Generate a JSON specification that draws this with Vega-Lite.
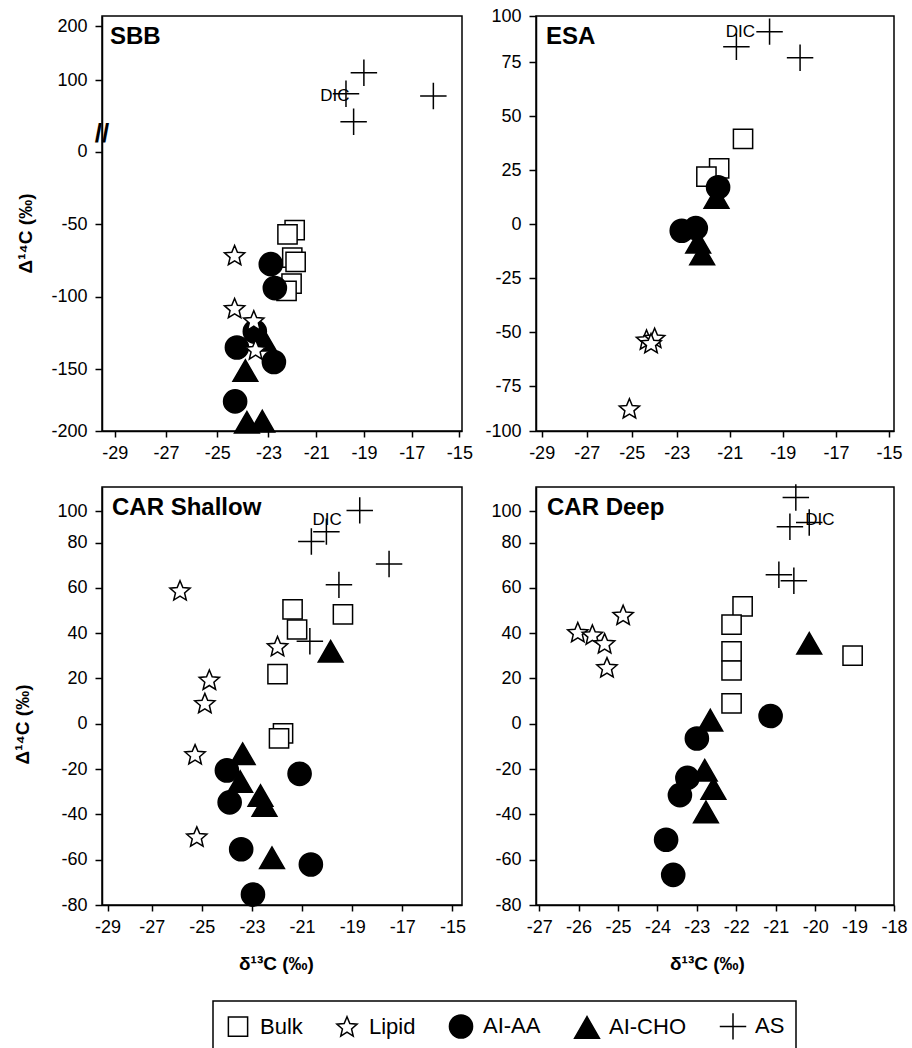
{
  "$schema": "https://vega.github.io/schema/vega-lite/v6.json",
  "padding": {"left": 12, "top": 6, "right": 0, "bottom": 0},
  "autosize": {"type": "pad"},
  "datasets": {
    "pts": [
      {"panel": "SBB", "type": "Bulk", "d13C": -21.9, "D14C": -54},
      {"panel": "SBB", "type": "Bulk", "d13C": -22.2, "D14C": -57},
      {"panel": "SBB", "type": "Bulk", "d13C": -22.0, "D14C": -73},
      {"panel": "SBB", "type": "Bulk", "d13C": -21.86, "D14C": -76},
      {"panel": "SBB", "type": "Bulk", "d13C": -22.03, "D14C": -91},
      {"panel": "SBB", "type": "Bulk", "d13C": -22.24, "D14C": -96},
      {"panel": "SBB", "type": "AI-CHO", "d13C": -23.17, "D14C": -130},
      {"panel": "SBB", "type": "AI-CHO", "d13C": -23.9, "D14C": -151},
      {"panel": "SBB", "type": "AI-CHO", "d13C": -23.84, "D14C": -193},
      {"panel": "SBB", "type": "AI-CHO", "d13C": -23.24, "D14C": -192},
      {"panel": "SBB", "type": "AI-AA", "d13C": -22.9, "D14C": -77.5},
      {"panel": "SBB", "type": "AI-AA", "d13C": -22.73, "D14C": -94},
      {"panel": "SBB", "type": "AI-AA", "d13C": -23.53, "D14C": -124},
      {"panel": "SBB", "type": "AI-AA", "d13C": -24.23, "D14C": -135},
      {"panel": "SBB", "type": "AI-AA", "d13C": -22.77, "D14C": -145},
      {"panel": "SBB", "type": "AI-AA", "d13C": -24.3, "D14C": -176},
      {"panel": "SBB", "type": "Lipid", "d13C": -24.32, "D14C": -72},
      {"panel": "SBB", "type": "Lipid", "d13C": -24.32, "D14C": -108.5},
      {"panel": "SBB", "type": "Lipid", "d13C": -23.57, "D14C": -117},
      {"panel": "SBB", "type": "Lipid", "d13C": -23.5, "D14C": -137},
      {"panel": "SBB", "type": "AS", "d13C": -19.0, "D14C": 113.5},
      {"panel": "SBB", "type": "AS", "d13C": -19.75, "D14C": 74.6},
      {"panel": "SBB", "type": "AS", "d13C": -16.09, "D14C": 70.4},
      {"panel": "SBB", "type": "AS", "d13C": -19.43, "D14C": 22.8},

      {"panel": "ESA", "type": "Bulk", "d13C": -20.5, "D14C": 39.4},
      {"panel": "ESA", "type": "Bulk", "d13C": -21.4, "D14C": 25.7},
      {"panel": "ESA", "type": "Bulk", "d13C": -21.88, "D14C": 21.9},
      {"panel": "ESA", "type": "AI-CHO", "d13C": -21.5, "D14C": 12.3},
      {"panel": "ESA", "type": "AI-CHO", "d13C": -22.19, "D14C": -8.5},
      {"panel": "ESA", "type": "AI-CHO", "d13C": -22.04, "D14C": -13.9},
      {"panel": "ESA", "type": "AI-AA", "d13C": -21.44, "D14C": 17},
      {"panel": "ESA", "type": "AI-AA", "d13C": -22.81, "D14C": -3.1},
      {"panel": "ESA", "type": "AI-AA", "d13C": -22.28, "D14C": -1.9},
      {"panel": "ESA", "type": "Lipid", "d13C": -24.34, "D14C": -54},
      {"panel": "ESA", "type": "Lipid", "d13C": -23.98, "D14C": -53.2},
      {"panel": "ESA", "type": "Lipid", "d13C": -24.14, "D14C": -55.6},
      {"panel": "ESA", "type": "Lipid", "d13C": -25.1, "D14C": -88},
      {"panel": "ESA", "type": "AS", "d13C": -19.5, "D14C": 91.5},
      {"panel": "ESA", "type": "AS", "d13C": -20.75, "D14C": 83.3},
      {"panel": "ESA", "type": "AS", "d13C": -18.35, "D14C": 77.3},

      {"panel": "CAR Shallow", "type": "Bulk", "d13C": -21.38, "D14C": 50.5},
      {"panel": "CAR Shallow", "type": "Bulk", "d13C": -21.2, "D14C": 41.6},
      {"panel": "CAR Shallow", "type": "Bulk", "d13C": -19.37, "D14C": 48.3},
      {"panel": "CAR Shallow", "type": "Bulk", "d13C": -21.98, "D14C": 21.9},
      {"panel": "CAR Shallow", "type": "Bulk", "d13C": -21.76, "D14C": -4.3},
      {"panel": "CAR Shallow", "type": "Bulk", "d13C": -21.92, "D14C": -6.5},
      {"panel": "CAR Shallow", "type": "AI-CHO", "d13C": -19.86, "D14C": 32},
      {"panel": "CAR Shallow", "type": "AI-CHO", "d13C": -23.37, "D14C": -13.2},
      {"panel": "CAR Shallow", "type": "AI-CHO", "d13C": -23.47, "D14C": -25.5},
      {"panel": "CAR Shallow", "type": "AI-CHO", "d13C": -22.66, "D14C": -31.7},
      {"panel": "CAR Shallow", "type": "AI-CHO", "d13C": -22.5, "D14C": -36.1},
      {"panel": "CAR Shallow", "type": "AI-CHO", "d13C": -22.2, "D14C": -59.1},
      {"panel": "CAR Shallow", "type": "AI-AA", "d13C": -24.0, "D14C": -20.6},
      {"panel": "CAR Shallow", "type": "AI-AA", "d13C": -21.1, "D14C": -22.1},
      {"panel": "CAR Shallow", "type": "AI-AA", "d13C": -23.89, "D14C": -34.7},
      {"panel": "CAR Shallow", "type": "AI-AA", "d13C": -23.43, "D14C": -55.4},
      {"panel": "CAR Shallow", "type": "AI-AA", "d13C": -20.65, "D14C": -62.1},
      {"panel": "CAR Shallow", "type": "AI-AA", "d13C": -22.96, "D14C": -75.4},
      {"panel": "CAR Shallow", "type": "Lipid", "d13C": -25.87, "D14C": 58.4},
      {"panel": "CAR Shallow", "type": "Lipid", "d13C": -21.98, "D14C": 33.8},
      {"panel": "CAR Shallow", "type": "Lipid", "d13C": -24.7, "D14C": 19},
      {"panel": "CAR Shallow", "type": "Lipid", "d13C": -24.88, "D14C": 8.7},
      {"panel": "CAR Shallow", "type": "Lipid", "d13C": -25.27, "D14C": -13.9},
      {"panel": "CAR Shallow", "type": "Lipid", "d13C": -25.2, "D14C": -50.2},
      {"panel": "CAR Shallow", "type": "AS", "d13C": -18.7, "D14C": 100.4},
      {"panel": "CAR Shallow", "type": "AS", "d13C": -20.03, "D14C": 86.9},
      {"panel": "CAR Shallow", "type": "AS", "d13C": -20.63, "D14C": 80.6},
      {"panel": "CAR Shallow", "type": "AS", "d13C": -17.53, "D14C": 70.5},
      {"panel": "CAR Shallow", "type": "AS", "d13C": -19.53, "D14C": 61.3},
      {"panel": "CAR Shallow", "type": "AS", "d13C": -20.69, "D14C": 36.4},

      {"panel": "CAR Deep", "type": "Bulk", "d13C": -21.84, "D14C": 51.8},
      {"panel": "CAR Deep", "type": "Bulk", "d13C": -22.12, "D14C": 43.7},
      {"panel": "CAR Deep", "type": "Bulk", "d13C": -22.12, "D14C": 31.9},
      {"panel": "CAR Deep", "type": "Bulk", "d13C": -22.12, "D14C": 23.5},
      {"panel": "CAR Deep", "type": "Bulk", "d13C": -22.12, "D14C": 9.0},
      {"panel": "CAR Deep", "type": "Bulk", "d13C": -19.05, "D14C": 30.1},
      {"panel": "CAR Deep", "type": "AI-CHO", "d13C": -20.15, "D14C": 35.5},
      {"panel": "CAR Deep", "type": "AI-CHO", "d13C": -22.66, "D14C": 1.6},
      {"panel": "CAR Deep", "type": "AI-CHO", "d13C": -22.8, "D14C": -20.5},
      {"panel": "CAR Deep", "type": "AI-CHO", "d13C": -22.58, "D14C": -28.6},
      {"panel": "CAR Deep", "type": "AI-CHO", "d13C": -22.77, "D14C": -38.9},
      {"panel": "CAR Deep", "type": "AI-AA", "d13C": -21.13, "D14C": 3.4},
      {"panel": "CAR Deep", "type": "AI-AA", "d13C": -23.0, "D14C": -6.5},
      {"panel": "CAR Deep", "type": "AI-AA", "d13C": -23.24, "D14C": -23.9},
      {"panel": "CAR Deep", "type": "AI-AA", "d13C": -23.43, "D14C": -31.5},
      {"panel": "CAR Deep", "type": "AI-AA", "d13C": -23.78, "D14C": -51.2},
      {"panel": "CAR Deep", "type": "AI-AA", "d13C": -23.6, "D14C": -66.7},
      {"panel": "CAR Deep", "type": "Lipid", "d13C": -26.02, "D14C": 40},
      {"panel": "CAR Deep", "type": "Lipid", "d13C": -25.65, "D14C": 38.9},
      {"panel": "CAR Deep", "type": "Lipid", "d13C": -25.34, "D14C": 35.1},
      {"panel": "CAR Deep", "type": "Lipid", "d13C": -25.28, "D14C": 24.5},
      {"panel": "CAR Deep", "type": "Lipid", "d13C": -24.87, "D14C": 47.6},
      {"panel": "CAR Deep", "type": "AS", "d13C": -20.49, "D14C": 108.7},
      {"panel": "CAR Deep", "type": "AS", "d13C": -20.64, "D14C": 90},
      {"panel": "CAR Deep", "type": "AS", "d13C": -20.15, "D14C": 92.7},
      {"panel": "CAR Deep", "type": "AS", "d13C": -20.92, "D14C": 65.8},
      {"panel": "CAR Deep", "type": "AS", "d13C": -20.54, "D14C": 63.1}
    ],
    "labels": [
      {"panel": "SBB", "label": "DIC", "d13C": -19.6, "D14C": 70},
      {"panel": "ESA", "label": "DIC", "d13C": -20.05, "D14C": 91.5},
      {"panel": "CAR Shallow", "label": "DIC", "d13C": -20.0, "D14C": 94.4},
      {"panel": "CAR Deep", "label": "DIC", "d13C": -20.25, "D14C": 94.2}
    ],
    "titles": [
      {"panel": "SBB", "label": "SBB", "d13C": -29.5, "D14C": 218.5},
      {"panel": "ESA", "label": "ESA", "d13C": -29.25, "D14C": 100},
      {"panel": "CAR Shallow", "label": "CAR Shallow", "d13C": -29.25, "D14C": 115.5},
      {"panel": "CAR Deep", "label": "CAR Deep", "d13C": -27.08, "D14C": 115.5}
    ],
    "breaks": [
      {"panel": "SBB", "label": "//", "d13C": -29.5, "D14C": 0.95}
    ]
  },
  "concat": [
    {
      "width": 360,
      "height": 415,
      "layer": [
        {
          "data": {"name": "pts"},
          "transform": [{"filter": "datum.panel === 'SBB'"}],
          "mark": {"type": "point", "filled": true, "stroke": "black", "strokeWidth": 1.5, "opacity": 1},
          "encoding": {
            "x": {"field": "d13C", "type": "quantitative",
              "scale": {"domain": [-29.5, -23, -14.89], "range": [0, 166.4, 360], "zero": false, "nice": false},
              "axis": {"values": [-29, -27, -25, -23, -21, -19, -17, -15], "tickCount": 30, "title": null, "labelOverlap": false, "labelFlush": false}},
            "y": {"field": "D14C", "type": "quantitative",
              "scale": {"domain": [-200, -150, 0, 1, 200, 218.5], "range": [415, 353.3, 135.7, 117.5, 10, 0], "zero": false, "nice": false},
              "axis": {"values": [-200, -150, -100, -50, 0, 100, 200], "tickCount": 30, "title": "Δ¹⁴C (‰)", "titleX": -67, "titleY": 217, "labelOverlap": false, "labelFlush": false}},
            "shape": {"field": "type", "type": "nominal", "scale": {"domain": ["Bulk", "Lipid", "AI-AA", "AI-CHO", "AS"], "range": ["square", "M0,-1L0.265,-0.364L0.951,-0.309L0.428,0.139L0.588,0.809L0,0.45L-0.588,0.809L-0.428,0.139L-0.951,-0.309L-0.265,-0.364Z", "circle", "triangle-up", "M-1,0L1,0M0,-1L0,1"]}},
            "fill": {"field": "type", "type": "nominal", "scale": {"domain": ["Bulk", "Lipid", "AI-AA", "AI-CHO", "AS"], "range": ["white", "white", "black", "black", "white"]}},
            "stroke": {"field": "type", "type": "nominal", "scale": {"domain": ["Bulk", "Lipid", "AI-AA", "AI-CHO", "AS"], "range": ["black", "black", "black", "black", "black"]}},
            "size": {"field": "type", "type": "nominal", "scale": {"domain": ["Bulk", "Lipid", "AI-AA", "AI-CHO", "AS"], "range": [370, 700, 340, 400, 340]}}
          }
        },
        {
          "data": {"name": "labels"},
          "transform": [{"filter": "datum.panel === 'SBB'"}],
          "mark": {"type": "text", "align": "right", "baseline": "middle", "fontSize": 17, "color": "black"},
          "encoding": {"x": {"field": "d13C", "type": "quantitative"}, "y": {"field": "D14C", "type": "quantitative"}, "text": {"field": "label"}}
        },
        {
          "data": {"name": "titles"},
          "transform": [{"filter": "datum.panel === 'SBB'"}],
          "mark": {"type": "text", "align": "left", "baseline": "alphabetic", "dx": 8, "dy": 28, "fontSize": 24, "fontWeight": "bold", "color": "black"},
          "encoding": {"x": {"field": "d13C", "type": "quantitative"}, "y": {"field": "D14C", "type": "quantitative"}, "text": {"field": "label"}}
        },
        {
          "data": {"name": "breaks"},
          "mark": {"type": "text", "align": "center", "baseline": "middle", "fontSize": 26, "fontWeight": "bold", "color": "black"},
          "encoding": {"x": {"field": "d13C", "type": "quantitative"}, "y": {"field": "D14C", "type": "quantitative"}, "text": {"field": "label"}}
        }
      ]
    },
    {
      "width": 358,
      "height": 415,
      "layer": [
        {
          "data": {"name": "pts"},
          "transform": [{"filter": "datum.panel === 'ESA'"}],
          "mark": {"type": "point", "filled": true, "stroke": "black", "strokeWidth": 1.5, "opacity": 1},
          "encoding": {
            "x": {"field": "d13C", "type": "quantitative",
              "scale": {"domain": [-29.25, -23, -14.81], "range": [0, 140.7, 358], "zero": false, "nice": false},
              "axis": {"values": [-29, -27, -25, -23, -21, -19, -17, -15], "tickCount": 30, "title": null, "labelOverlap": false, "labelFlush": false}},
            "y": {"field": "D14C", "type": "quantitative",
              "scale": {"domain": [-100, -75, 75, 100], "range": [415, 370, 46, 0], "zero": false, "nice": false},
              "axis": {"values": [-100, -75, -50, -25, 0, 25, 50, 75, 100], "tickCount": 30, "title": null, "labelOverlap": false, "labelFlush": false}},
            "shape": {"field": "type", "type": "nominal", "scale": {"domain": ["Bulk", "Lipid", "AI-AA", "AI-CHO", "AS"], "range": ["square", "M0,-1L0.265,-0.364L0.951,-0.309L0.428,0.139L0.588,0.809L0,0.45L-0.588,0.809L-0.428,0.139L-0.951,-0.309L-0.265,-0.364Z", "circle", "triangle-up", "M-1,0L1,0M0,-1L0,1"]}},
            "fill": {"field": "type", "type": "nominal", "scale": {"domain": ["Bulk", "Lipid", "AI-AA", "AI-CHO", "AS"], "range": ["white", "white", "black", "black", "white"]}},
            "stroke": {"field": "type", "type": "nominal", "scale": {"domain": ["Bulk", "Lipid", "AI-AA", "AI-CHO", "AS"], "range": ["black", "black", "black", "black", "black"]}},
            "size": {"field": "type", "type": "nominal", "scale": {"domain": ["Bulk", "Lipid", "AI-AA", "AI-CHO", "AS"], "range": [370, 700, 340, 400, 340]}}
          }
        },
        {
          "data": {"name": "labels"},
          "transform": [{"filter": "datum.panel === 'ESA'"}],
          "mark": {"type": "text", "align": "right", "baseline": "middle", "fontSize": 17, "color": "black"},
          "encoding": {"x": {"field": "d13C", "type": "quantitative"}, "y": {"field": "D14C", "type": "quantitative"}, "text": {"field": "label"}}
        },
        {
          "data": {"name": "titles"},
          "transform": [{"filter": "datum.panel === 'ESA'"}],
          "mark": {"type": "text", "align": "left", "baseline": "alphabetic", "dx": 10, "dy": 28, "fontSize": 24, "fontWeight": "bold", "color": "black"},
          "encoding": {"x": {"field": "d13C", "type": "quantitative"}, "y": {"field": "D14C", "type": "quantitative"}, "text": {"field": "label"}}
        }
      ]
    },
    {
      "width": 360,
      "height": 418,
      "layer": [
        {
          "data": {"name": "pts"},
          "transform": [{"filter": "datum.panel === 'CAR Shallow'"}],
          "mark": {"type": "point", "filled": true, "stroke": "black", "strokeWidth": 1.5, "opacity": 1},
          "encoding": {
            "x": {"field": "d13C", "type": "quantitative",
              "scale": {"domain": [-29.25, -27, -14.62], "range": [0, 49.7, 360], "zero": false, "nice": false},
              "axis": {"values": [-29, -27, -25, -23, -21, -19, -17, -15], "tickCount": 30, "title": "δ¹³C (‰)", "titleX": 174, "titleY": 49, "labelOverlap": false, "labelFlush": false}},
            "y": {"field": "D14C", "type": "quantitative",
              "scale": {"domain": [-80, 80, 100, 115.5], "range": [418, 55.5, 24, 0], "zero": false, "nice": false},
              "axis": {"values": [-80, -60, -40, -20, 0, 20, 40, 60, 80, 100], "tickCount": 30, "title": "Δ¹⁴C (‰)", "titleX": -69.5, "titleY": 237, "labelOverlap": false, "labelFlush": false}},
            "shape": {"field": "type", "type": "nominal", "scale": {"domain": ["Bulk", "Lipid", "AI-AA", "AI-CHO", "AS"], "range": ["square", "M0,-1L0.265,-0.364L0.951,-0.309L0.428,0.139L0.588,0.809L0,0.45L-0.588,0.809L-0.428,0.139L-0.951,-0.309L-0.265,-0.364Z", "circle", "triangle-up", "M-1,0L1,0M0,-1L0,1"]}},
            "fill": {"field": "type", "type": "nominal", "scale": {"domain": ["Bulk", "Lipid", "AI-AA", "AI-CHO", "AS"], "range": ["white", "white", "black", "black", "white"]}},
            "stroke": {"field": "type", "type": "nominal", "scale": {"domain": ["Bulk", "Lipid", "AI-AA", "AI-CHO", "AS"], "range": ["black", "black", "black", "black", "black"]}},
            "size": {"field": "type", "type": "nominal", "scale": {"domain": ["Bulk", "Lipid", "AI-AA", "AI-CHO", "AS"], "range": [370, 700, 340, 400, 340]}}
          }
        },
        {
          "data": {"name": "labels"},
          "transform": [{"filter": "datum.panel === 'CAR Shallow'"}],
          "mark": {"type": "text", "align": "center", "baseline": "middle", "fontSize": 17, "color": "black"},
          "encoding": {"x": {"field": "d13C", "type": "quantitative"}, "y": {"field": "D14C", "type": "quantitative"}, "text": {"field": "label"}}
        },
        {
          "data": {"name": "titles"},
          "transform": [{"filter": "datum.panel === 'CAR Shallow'"}],
          "mark": {"type": "text", "align": "left", "baseline": "alphabetic", "dx": 10, "dy": 28, "fontSize": 24, "fontWeight": "bold", "color": "black"},
          "encoding": {"x": {"field": "d13C", "type": "quantitative"}, "y": {"field": "D14C", "type": "quantitative"}, "text": {"field": "label"}}
        }
      ]
    },
    {
      "width": 358,
      "height": 418,
      "layer": [
        {
          "data": {"name": "pts"},
          "transform": [{"filter": "datum.panel === 'CAR Deep'"}],
          "mark": {"type": "point", "filled": true, "stroke": "black", "strokeWidth": 1.5, "opacity": 1},
          "encoding": {
            "x": {"field": "d13C", "type": "quantitative",
              "scale": {"domain": [-27.08, -18], "zero": false, "nice": false},
              "axis": {"values": [-27, -26, -25, -24, -23, -22, -21, -20, -19, -18], "tickCount": 30, "title": "δ¹³C (‰)", "titleX": 171, "titleY": 49, "labelOverlap": false, "labelFlush": false}},
            "y": {"field": "D14C", "type": "quantitative",
              "scale": {"domain": [-80, 80, 100, 115.5], "range": [418, 55.5, 24, 0], "zero": false, "nice": false},
              "axis": {"values": [-80, -60, -40, -20, 0, 20, 40, 60, 80, 100], "tickCount": 30, "title": null, "labelOverlap": false, "labelFlush": false}},
            "shape": {"field": "type", "type": "nominal", "scale": {"domain": ["Bulk", "Lipid", "AI-AA", "AI-CHO", "AS"], "range": ["square", "M0,-1L0.265,-0.364L0.951,-0.309L0.428,0.139L0.588,0.809L0,0.45L-0.588,0.809L-0.428,0.139L-0.951,-0.309L-0.265,-0.364Z", "circle", "triangle-up", "M-1,0L1,0M0,-1L0,1"]}},
            "fill": {"field": "type", "type": "nominal", "scale": {"domain": ["Bulk", "Lipid", "AI-AA", "AI-CHO", "AS"], "range": ["white", "white", "black", "black", "white"]}},
            "stroke": {"field": "type", "type": "nominal", "scale": {"domain": ["Bulk", "Lipid", "AI-AA", "AI-CHO", "AS"], "range": ["black", "black", "black", "black", "black"]}},
            "size": {"field": "type", "type": "nominal", "scale": {"domain": ["Bulk", "Lipid", "AI-AA", "AI-CHO", "AS"], "range": [370, 700, 340, 400, 340]}}
          }
        },
        {
          "data": {"name": "labels"},
          "transform": [{"filter": "datum.panel === 'CAR Deep'"}],
          "mark": {"type": "text", "align": "left", "baseline": "middle", "fontSize": 17, "color": "black"},
          "encoding": {"x": {"field": "d13C", "type": "quantitative"}, "y": {"field": "D14C", "type": "quantitative"}, "text": {"field": "label"}}
        },
        {
          "data": {"name": "titles"},
          "transform": [{"filter": "datum.panel === 'CAR Deep'"}],
          "mark": {"type": "text", "align": "left", "baseline": "alphabetic", "dx": 11, "dy": 28, "fontSize": 24, "fontWeight": "bold", "color": "black"},
          "encoding": {"x": {"field": "d13C", "type": "quantitative"}, "y": {"field": "D14C", "type": "quantitative"}, "text": {"field": "label"}}
        }
      ]
    }
  ],
  "columns": 2,
  "spacing": {"row": 56, "column": 74},
  "bounds": "flush",
  "resolve": {"scale": {"shape": "shared", "fill": "shared", "stroke": "shared", "size": "shared"}},
  "config": {
    "font": "Liberation Sans",
    "view": {"stroke": "black", "strokeWidth": 1.5},
    "axis": {
      "grid": false, "domainColor": "black", "domainWidth": 1.5, "tickColor": "black", "tickWidth": 1.5, "tickSize": 6,
      "labelColor": "black", "labelFontSize": 18, "labelFont": "Liberation Sans", "labelPadding": 7, "labelFlush": false, "labelOverlap": false,
      "labelExpr": "toString(datum.value)",
      "titleColor": "black", "titleFont": "Liberation Sans", "titleFontSize": 19, "titleFontWeight": "bold"
    },
    "axisY": {"tickSize": 7, "labelPadding": 8},
    "legend": {
      "orient": "none", "legendX": 111, "legendY": 985, "direction": "horizontal", "columns": 5,
      "strokeColor": "black", "strokeWidth": 1.5, "padding": 11, "labelFontSize": 22, "labelFont": "Liberation Sans", "labelColor": "black",
      "columnPadding": 30, "labelOffset": 8, "symbolStrokeColor": "black", "symbolStrokeWidth": 1.5, "title": null
    }
  }
}
